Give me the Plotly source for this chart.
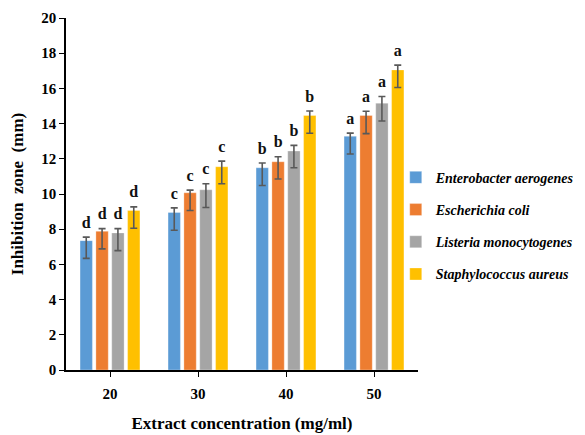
import plotly.graph_objects as go

concentrations = ["20", "30", "40", "50"]
species = ["Enterobacter aerogenes", "Escherichia coli", "Listeria monocytogenes", "Staphylococcus aureus"]
colors = ["#5B9BD5", "#ED7D31", "#A5A5A5", "#FFC000"]

enterobacter = [7.35, 8.95, 11.49, 13.28]
escherichia = [7.88, 10.07, 11.83, 14.46]
listeria = [7.79, 10.24, 12.44, 15.16]
staphylococcus = [9.06, 11.55, 14.46, 17.05]

err_plus_entero = [0.2, 0.26, 0.27, 0.18]
err_plus_esch = [0.15, 0.15, 0.29, 0.24]
err_plus_list = [0.24, 0.34, 0.32, 0.38]
err_plus_staph = [0.21, 0.32, 0.26, 0.27]

err_minus_entero = [1.01, 1.01, 1.01, 1.01]
err_minus_esch = [1.0, 1.01, 0.98, 1.03]
err_minus_list = [1.01, 1.01, 0.95, 1.01]
err_minus_staph = [1.01, 0.97, 1.01, 1.0]

letters_entero = ["d", "c", "b", "a"]
letters_esch = ["d", "c", "b", "a"]
letters_list = ["d", "c", "b", "a"]
letters_staph = ["d", "c", "b", "a"]

values = [enterobacter, escherichia, listeria, staphylococcus]
plus = [err_plus_entero, err_plus_esch, err_plus_list, err_plus_staph]
minus = [err_minus_entero, err_minus_esch, err_minus_list, err_minus_staph]
letters = [letters_entero, letters_esch, letters_list, letters_staph]

serif = "Liberation Serif, Times New Roman, DejaVu Serif, serif"

fig = go.Figure()
for i, name in enumerate(species):
    fig.add_trace(go.Bar(
        x=concentrations, y=values[i], name=name,
        marker=dict(color=colors[i], line=dict(color="rgba(255,255,255,0.6)", width=0.5)),
        offsetgroup=str(i), alignmentgroup="a", legendgroup=str(i),
        error_y=dict(type="data", symmetric=False, array=plus[i], arrayminus=minus[i],
                     color="#595959", thickness=1.6, width=3.5),
    ))
for i, name in enumerate(species):
    tops = [v + p for v, p in zip(values[i], plus[i])]
    fig.add_trace(go.Scatter(
        x=concentrations, y=tops, mode="markers+text", text=letters[i],
        marker=dict(size=7, opacity=0),
        textposition="top center", offsetgroup=str(i), alignmentgroup="a",
        textfont=dict(family=serif, size=16, color="#111111", weight="bold"),
        showlegend=False, hoverinfo="skip", cliponaxis=False,
    ))

fig.update_layout(
    width=577, height=427,
    paper_bgcolor="white", plot_bgcolor="white",
    barmode="group", scattermode="group",
    bargap=0.28, bargroupgap=0.22,
    margin=dict(l=58, r=167, t=10, b=65, autoexpand=False),
    font=dict(family=serif, color="#000000"),
    xaxis=dict(
        title=dict(text="Extract concentration (mg/ml)",
                   font=dict(family=serif, size=17, weight="bold"), standoff=16),
        tickfont=dict(family=serif, size=15, weight="bold"),
        ticklabelstandoff=4, automargin=False,
        showline=True, linecolor="#000000", linewidth=1.5,
        ticks="outside", ticklen=5, tickcolor="#000000", showgrid=False,
    ),
    yaxis=dict(
        title=dict(text="Inhibition  zone  (mm)",
                   font=dict(family=serif, size=17, weight="bold"), standoff=14),
        tickfont=dict(family=serif, size=15, weight="bold"),
        range=[0, 20], dtick=2, automargin=False,
        showline=True, linecolor="#000000", linewidth=1.5,
        ticks="outside", ticklen=5, tickcolor="#000000", showgrid=False, zeroline=False,
    ),
    legend=dict(
        xref="container", yref="container",
        x=0.672, xanchor="left", y=0.49, yanchor="middle",
        bgcolor="rgba(0,0,0,0)",
        font=dict(family=serif, size=14, style="italic", weight="bold"),
        tracegroupgap=11, itemwidth=30,
    ),
)

fig.write_html("out.html")
